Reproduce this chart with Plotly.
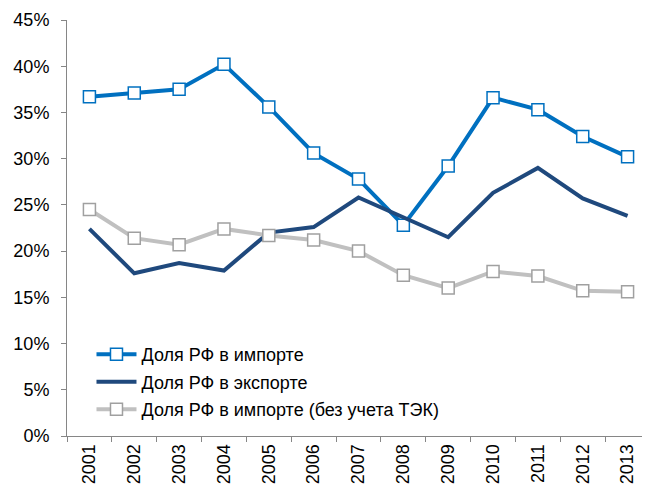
import plotly.graph_objects as go

years = [str(y) for y in range(2001, 2014)]
imp = [36.7, 37.1, 37.5, 40.2, 35.6, 30.6, 27.8, 22.8, 29.2, 36.6, 35.3, 32.4, 30.2]
exp = [22.4, 17.6, 18.7, 17.9, 22.0, 22.6, 25.8, 23.7, 21.5, 26.3, 29.0, 25.7, 23.8]
imp_ne = [24.5, 21.4, 20.7, 22.4, 21.7, 21.2, 20.0, 17.4, 16.0, 17.8, 17.3, 15.7, 15.6]
names = ["Доля РФ в импорте", "Доля РФ в экспорте", "Доля РФ в импорте (без учета ТЭК)"]
yticks = list(range(0, 50, 5))

fig = go.Figure()
fig.add_trace(go.Scatter(x=years, y=imp, name=names[0], mode="lines+markers", legendgroup="a",
                         line=dict(color="#0070C0", width=4),
                         marker=dict(symbol="square", size=12, color="white",
                                     line=dict(color="#0070C0", width=1.5))))
fig.add_trace(go.Scatter(x=years, y=exp, name=names[1], mode="lines", legendgroup="b",
                         line=dict(color="#1F497D", width=4)))
fig.add_trace(go.Scatter(x=years, y=imp_ne, name=names[2], mode="lines+markers", legendgroup="c",
                         line=dict(color="#C0C0C0", width=4),
                         marker=dict(symbol="square", size=12, color="white",
                                     line=dict(color="#A0A0A0", width=1.5))))

# the page has an 8px body margin, so the figure is shrunk to fit the window
fig.update_layout(
    width=642, height=480,
    margin=dict(l=59, r=0, t=12, b=52),
    paper_bgcolor="white", plot_bgcolor="white",
    font=dict(family="Liberation Sans, Arial", size=18, color="black"),
    showlegend=True,
    legend=dict(x=0.042, y=0.24, xanchor="left", yanchor="top",
                bgcolor="rgba(0,0,0,0)", font=dict(size=18),
                tracegroupgap=1, itemwidth=40),
)
fig.update_xaxes(type="category", showgrid=False, showline=True, linecolor="#868686",
                 linewidth=1, ticks="outside", ticklen=5, tickcolor="#868686",
                 tickson="boundaries", tickangle=-90, range=[-0.5, 12.5],
                 automargin=False)
fig.update_yaxes(range=[0, 45], tickvals=yticks, ticktext=[f"{v}%" for v in yticks],
                 showgrid=False, showline=True, linecolor="#868686", linewidth=1,
                 ticks="outside", ticklen=5, tickcolor="#868686", zeroline=False,
                 ticklabelstandoff=8, automargin=False)

fig.write_html("out.html")
